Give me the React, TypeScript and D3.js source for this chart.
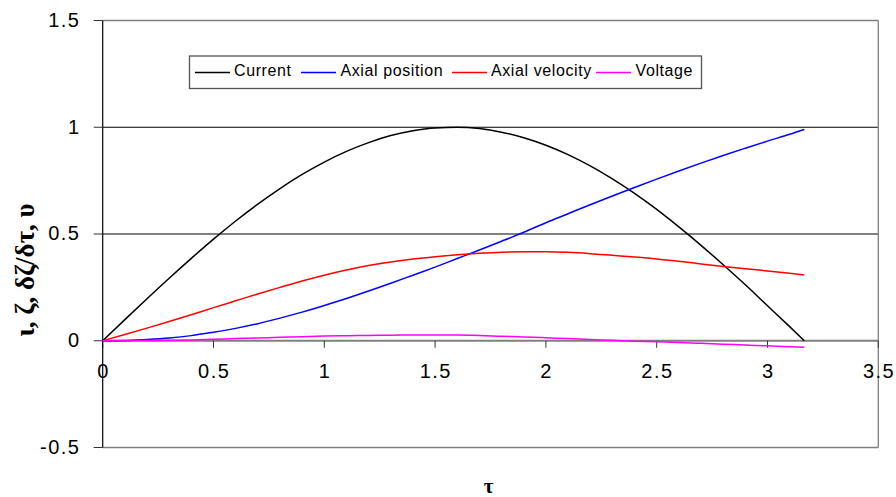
import React from "react";
import * as d3 from "d3";

// Dimensionless time samples
const tau = [
  0, 0.1, 0.2, 0.3, 0.4, 0.5, 0.6, 0.7, 0.8, 0.9, 1.0, 1.1, 1.2, 1.3, 1.4, 1.5,
  1.6, 1.7, 1.8, 1.9, 2.0, 2.1, 2.2, 2.3, 2.4, 2.5, 2.6, 2.7, 2.8, 2.9, 3.0, 3.1,
  3.166,
];

const current = [
  0, 0.099, 0.197, 0.293, 0.386, 0.476, 0.561, 0.64, 0.713, 0.779, 0.837, 0.887,
  0.928, 0.961, 0.984, 0.997, 1.0, 0.994, 0.977, 0.951, 0.916, 0.872, 0.819,
  0.758, 0.69, 0.615, 0.533, 0.447, 0.356, 0.262, 0.164, 0.066, 0,
];

const axialPosition = [
  0, 0.001, 0.006, 0.013, 0.024, 0.04, 0.058, 0.08, 0.106, 0.134, 0.165, 0.198,
  0.233, 0.269, 0.307, 0.345, 0.385, 0.425, 0.466, 0.508, 0.553, 0.595, 0.637,
  0.678, 0.718, 0.757, 0.795, 0.832, 0.868, 0.902, 0.935, 0.967, 0.99,
];

const axialVelocity = [
  0, 0.029, 0.059, 0.09, 0.122, 0.155, 0.187, 0.219, 0.25, 0.28, 0.307, 0.331,
  0.352, 0.369, 0.383, 0.394, 0.403, 0.41, 0.415, 0.417, 0.417, 0.414, 0.408,
  0.4, 0.392, 0.383, 0.372, 0.36, 0.348, 0.337, 0.327, 0.316, 0.308,
];

const voltage = [
  0, 0, 0.001, 0.002, 0.004, 0.007, 0.01, 0.013, 0.016, 0.019, 0.022, 0.024,
  0.025, 0.026, 0.027, 0.027, 0.027, 0.025, 0.021, 0.018, 0.014, 0.01, 0.006,
  0.002, -0.002, -0.005, -0.008, -0.012, -0.016, -0.02, -0.024, -0.028, -0.031,
];

const seriesNames = ["Current", "Axial position", "Axial velocity", "Voltage"];
const seriesColors = ["#000000", "#0000ff", "#ff0000", "#ff00ff"];
const seriesValues = [current, axialPosition, axialVelocity, voltage];

const xTicks = [0, 0.5, 1, 1.5, 2, 2.5, 3, 3.5];
const yTicks = [-0.5, 0, 0.5, 1, 1.5];

const W = 896;
const H = 497;
const FONT = "'Liberation Sans', Arial, sans-serif";

export default function App() {
  const x = d3.scaleLinear().domain([0, 3.5]).range([102.7, 878.3]);
  const y = d3.scaleLinear().domain([-0.5, 1.5]).range([447.5, 20.5]);

  const line = d3
    .line<[number, number]>()
    .x((d) => x(d[0]))
    .y((d) => y(d[1]))
    .curve(d3.curveMonotoneX);

  const x0 = x(0);
  const x1 = x(3.5);
  const yTop = y(1.5);
  const yBot = y(-0.5);
  const yZero = y(0);

  const tickLs = 1.5; // letter spacing of tick labels
  const legendItems = [
    { lx: 195, tx: 234 },
    { lx: 301, tx: 340.5 },
    { lx: 452, tx: 491 },
    { lx: 596, tx: 635.5 },
  ];

  return (
    <svg
      width={W}
      height={H}
      style={{ position: "absolute", left: 0, top: 0, background: "#fff" }}
    >
      {/* horizontal grid lines */}
      {yTicks
        .filter((v) => v > 0 && v < 1.5)
        .map((v) => (
          <line
            key={"g" + v}
            x1={x0}
            x2={x1}
            y1={y(v)}
            y2={y(v)}
            stroke="#000"
            strokeWidth={1}
          />
        ))}
      {/* plot frame */}
      <line x1={x0} x2={x1} y1={yTop} y2={yTop} stroke="#808080" strokeWidth={1.3} />
      <line x1={x0} x2={x1} y1={yBot} y2={yBot} stroke="#808080" strokeWidth={1.3} />
      <line x1={x1} x2={x1} y1={yTop} y2={yBot} stroke="#808080" strokeWidth={1.3} />

      {/* x axis on zero */}
      <line x1={x0} x2={x1} y1={yZero} y2={yZero} stroke="#808080" strokeWidth={1.8} />
      {xTicks.map((t) => (
        <g key={"xt" + t}>
          <line x1={x(t)} x2={x(t)} y1={yZero} y2={yZero + 7} stroke="#333" strokeWidth={1} />
          <text
            x={x(t) + tickLs / 2}
            y={yZero + 32}
            textAnchor="middle"
            dominantBaseline="middle"
            fontFamily={FONT}
            fontSize={20}
            letterSpacing={tickLs}
            fill="#000"
          >
            {String(t)}
          </text>
        </g>
      ))}

      {/* y axis */}
      <line x1={x0} x2={x0} y1={yTop} y2={yBot} stroke="#000" strokeWidth={1.2} />
      {yTicks.map((v) => (
        <g key={"yt" + v}>
          <line x1={x0 - 9} x2={x0} y1={y(v)} y2={y(v)} stroke="#333" strokeWidth={1} />
          <text
            x={79 + tickLs}
            y={y(v) + 1}
            textAnchor="end"
            dominantBaseline="middle"
            fontFamily={FONT}
            fontSize={20}
            letterSpacing={tickLs}
            fill="#000"
          >
            {String(v)}
          </text>
        </g>
      ))}

      {/* series */}
      {seriesValues.map((vals, i) => (
        <path
          key={seriesNames[i]}
          d={line(tau.map((t, k) => [t, vals[k]] as [number, number])) || ""}
          fill="none"
          stroke={seriesColors[i]}
          strokeWidth={1.5}
        />
      ))}

      {/* axis titles */}
      <text
        x={x((0 + 3.5) / 2) - 2}
        y={488}
        textAnchor="middle"
        dominantBaseline="middle"
        fontFamily="'Liberation Serif', 'Times New Roman', serif"
        fontWeight="bold"
        fontSize={21}
      >
        τ
      </text>
      <text
        transform="translate(28,270) rotate(-90)"
        textAnchor="middle"
        dominantBaseline="middle"
        fontFamily="'Liberation Serif', 'Times New Roman', serif"
        fontWeight="bold"
        fontSize={27}
      >
        ι, ζ, δζ/δτ, υ
      </text>

      {/* legend */}
      <rect
        x={189.5}
        y={56}
        width={512}
        height={32.5}
        fill="#fff"
        stroke="#555"
        strokeWidth={1.3}
      />
      {seriesNames.map((name, i) => (
        <g key={"lg" + name}>
          <line
            x1={legendItems[i].lx}
            x2={legendItems[i].lx + 35}
            y1={72.5}
            y2={72.5}
            stroke={seriesColors[i]}
            strokeWidth={1.5}
          />
          <text
            x={legendItems[i].tx}
            y={72}
            dominantBaseline="middle"
            fontFamily={FONT}
            fontSize={16}
            letterSpacing={0.6}
            fill="#000"
          >
            {name}
          </text>
        </g>
      ))}
    </svg>
  );
}
